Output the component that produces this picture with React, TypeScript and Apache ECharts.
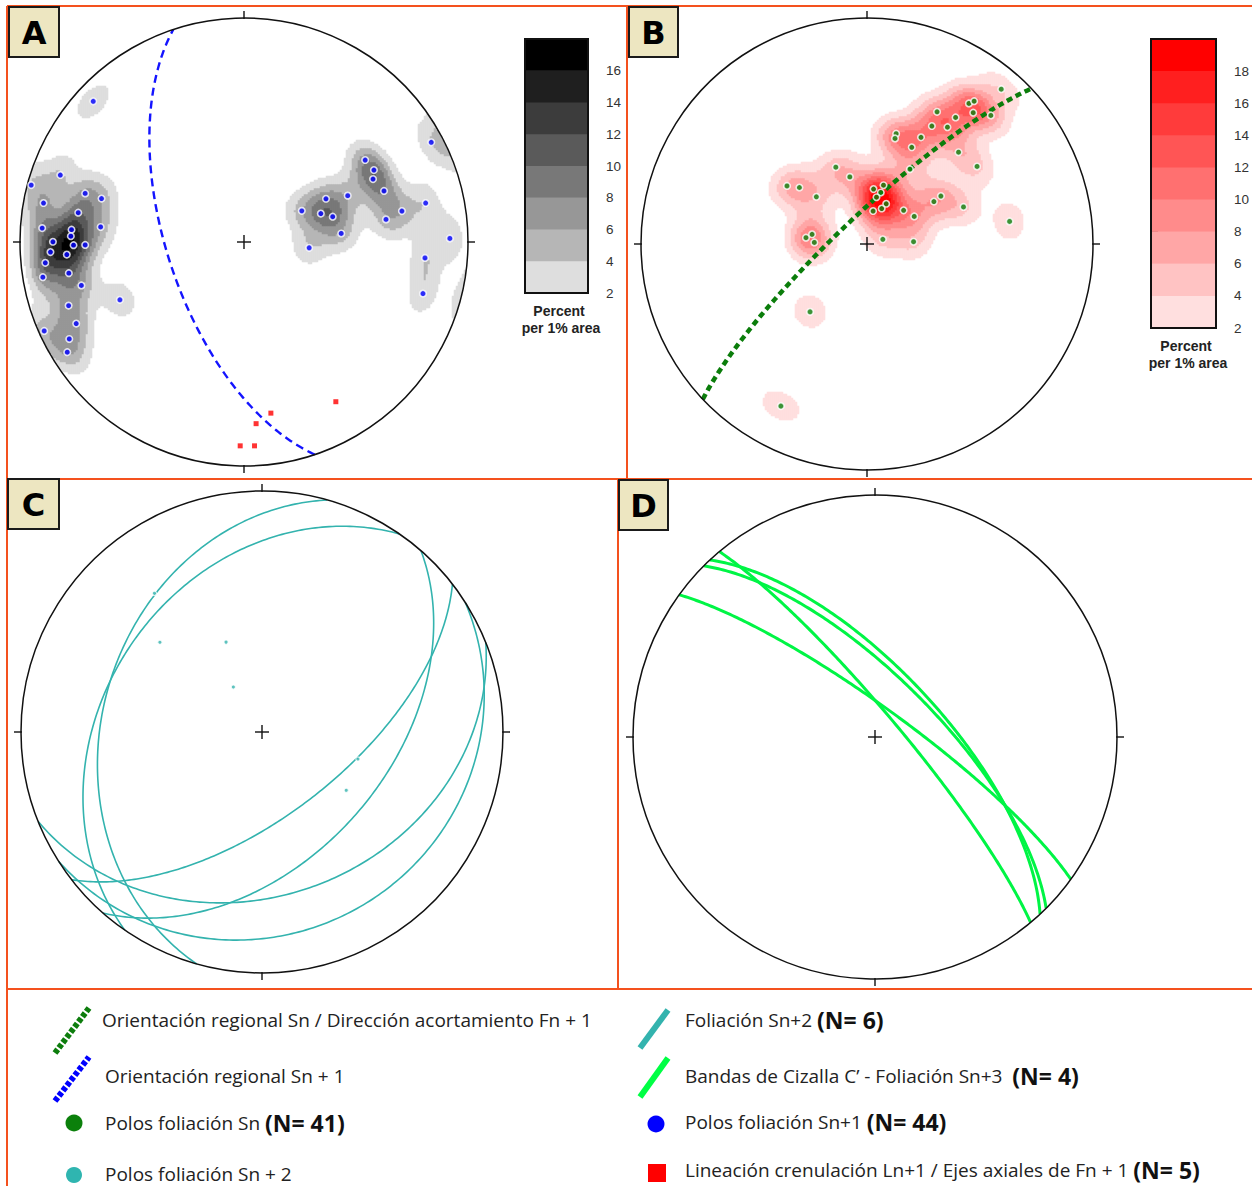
import React, { useEffect, useRef } from "react";
import * as echarts from "echarts";

const W = 1252;
const H = 1186;
const D2R = Math.PI / 180;

// ---- DATA (net coordinates: east, north; primitive radius = 1, equal-area, lower hemisphere)
// A: Polos foliación Sn+1 (N = 44)
const POLES_SN1: [number, number][] = [
  [-0.673, 0.628], [-0.82, 0.299], [-0.95, 0.254], [-0.709, 0.217], [-0.636, 0.194],
  [-0.895, 0.174], [-0.74, 0.131], [-0.901, 0.062], [-0.64, 0.067], [-0.77, 0.055],
  [-0.773, 0.026], [-0.853, 0.001], [-0.761, -0.014], [-0.709, -0.013], [-0.864, -0.045],
  [-0.791, -0.056], [-0.887, -0.093], [-0.898, -0.157], [-0.782, -0.139], [-0.726, -0.194],
  [-0.554, -0.258], [-0.783, -0.284], [-0.749, -0.364], [-0.892, -0.397], [-0.78, -0.433],
  [-0.789, -0.492], [0.258, 0.139], [0.291, -0.026], [0.366, 0.193], [0.463, 0.207],
  [0.343, 0.127], [0.396, 0.113], [0.434, 0.038], [0.541, 0.366], [0.58, 0.321],
  [0.576, 0.281], [0.625, 0.228], [0.705, 0.138], [0.634, 0.101], [0.811, 0.174],
  [0.836, 0.445], [0.919, 0.016], [0.808, -0.071], [0.799, -0.23],
];
// A: Lineación crenulación Ln+1 / Ejes axiales de Fn+1 (N = 5)
const LINEATIONS_LN1: [number, number][] = [
  [0.12, -0.764], [0.054, -0.811], [-0.017, -0.91], [0.047, -0.91], [0.41, -0.713],
];
// B: Polos foliación Sn (N = 41)
const POLES_SN: [number, number][] = [
  [0.31, 0.585], [0.287, 0.522], [0.356, 0.517], [0.129, 0.488], [0.124, 0.467],
  [0.239, 0.472], [0.198, 0.428], [-0.138, 0.34], [-0.076, 0.297], [-0.354, 0.257],
  [-0.299, 0.25], [-0.224, 0.209], [0.029, 0.243], [0.073, 0.26], [0.061, 0.228],
  [0.085, 0.178], [0.065, 0.157], [0.027, 0.146], [0.162, 0.149], [0.209, 0.122],
  [0.19, 0.331], [-0.27, 0.028], [-0.243, 0.043], [-0.233, 0.007], [0.07, 0.021],
  [0.206, 0.01], [-0.252, -0.3], [-0.381, -0.717], [0.296, 0.188], [0.327, 0.212],
  [0.594, 0.685], [0.451, 0.622], [0.474, 0.632], [0.47, 0.581], [0.548, 0.569],
  [0.392, 0.56], [0.405, 0.406], [0.487, 0.343], [0.427, 0.164], [0.631, 0.1],
  [0.042, 0.207],
];
// Planes: [dip direction, dip] (degrees)
const PLANE_SN1: [number, number][] = [[251.6, 62]];
const PLANE_SN: [number, number][] = [[316.6, 80]];
const PLANES_SN2: [number, number][] = [
  [285.7, 34], [304.7, 35], [142.2, 62], [131.3, 47], [158.2, 33], [147.5, 18],
];
const PLANES_SN3: [number, number][] = [[36, 80], [50, 82], [47, 68], [45, 70]];

// Density colour scales (percent per 1% area)
const GRAY_BANDS = [2, 4, 6, 8, 10, 12, 14, 16];
const GRAY_COLORS = ["#dedede", "#b6b6b6", "#979797", "#787878", "#5a5a5a", "#3c3c3c", "#1f1f1f", "#000000"];
const GRAY_TICKS = [2, 4, 6, 8, 10, 12, 14, 16];
const RED_BANDS = [2, 4, 6, 8, 10, 12, 14, 16, 18];
const RED_COLORS = ["#ffdfdf", "#ffc3c3", "#ffa6a6", "#ff8b8b", "#ff7070", "#ff5555", "#ff3b3b", "#ff1f1f", "#ff0000"];
const RED_TICKS = [2, 4, 6, 8, 10, 12, 14, 16, 18];

// ---- projection helpers
function project(trend: number, plunge: number): [number, number] {
  const r = Math.SQRT2 * Math.sin(((90 - plunge) / 2) * D2R);
  return [r * Math.sin(trend * D2R), r * Math.cos(trend * D2R)];
}
function vecToXY(e: number, n: number, d: number): [number, number] {
  const dd = Math.max(0, Math.min(1, d));
  const plunge = Math.asin(dd) / D2R;
  const trend = Math.atan2(e, n) / D2R;
  return project(trend, plunge);
}
function xyToVec(x: number, y: number): [number, number, number] {
  const r = Math.hypot(x, y);
  if (r < 1e-9) return [0, 0, 1];
  const th = 2 * Math.asin(Math.min(1, r / Math.SQRT2));
  const s = Math.sin(th);
  return [(s * x) / r, (s * y) / r, Math.cos(th)];
}
function greatCircle(dipDir: number, dip: number): [number, number][] {
  const a = dipDir * D2R;
  const b = dip * D2R;
  const s = [Math.sin(a - Math.PI / 2), Math.cos(a - Math.PI / 2), 0];
  const dv = [Math.sin(a) * Math.cos(b), Math.cos(a) * Math.cos(b), Math.sin(b)];
  const pts: [number, number][] = [];
  for (let t = 0; t <= 180; t += 1) {
    const c = Math.cos(t * D2R);
    const sn = Math.sin(t * D2R);
    pts.push(vecToXY(s[0] * c + dv[0] * sn, s[1] * c + dv[1] * sn, s[2] * c + dv[2] * sn));
  }
  return pts;
}
function densityCells(points: [number, number][], n: number): number[][] {
  const SIG = 0.092;
  const AMP = 1.45;
  const vecs = points.map((p) => xyToVec(p[0], p[1]));
  const k = 100 / points.length;
  const out: number[][] = [];
  const lim = 1 - 0.5 / n;
  for (let i = 0; i < n; i++) {
    for (let j = 0; j < n; j++) {
      const x = -1 + ((i + 0.5) * 2) / n;
      const y = -1 + ((j + 0.5) * 2) / n;
      if (x * x + y * y > lim * lim) continue;
      const v = xyToVec(x, y);
      let s = 0;
      for (const p of vecs) {
        const c = Math.abs(v[0] * p[0] + v[1] * p[1] + v[2] * p[2]);
        const th = Math.acos(Math.min(1, c));
        if (th > 0.4) continue;
        s += AMP * Math.exp(-(th * th) / (2 * SIG * SIG));
      }
      const val = s * k;
      if (val >= 2) out.push([i, j, val]);
    }
  }
  return out;
}

const range = (n: number) => Array.from({ length: n }, (_, i) => String(i));

function buildOption(): any {
  const NA = 224;
  const NB = 226;
  const ORANGE = "#f4511e";
  const BEIGE = "#ede6c1";
  const LEG_FONT = "Open Sans";

  const netFrame = (idx: number) => ({
    type: "custom",
    xAxisIndex: idx,
    yAxisIndex: idx,
    z: 5,
    silent: true,
    data: [[0, 0]],
    renderItem: (_p: any, api: any) => {
      const c = api.coord([0, 0]);
      const e = api.coord([1, 0]);
      const R = e[0] - c[0];
      const ln = (x1: number, y1: number, x2: number, y2: number) => ({
        type: "line",
        shape: { x1, y1, x2, y2 },
        style: { stroke: "#111", lineWidth: 1.4 },
      });
      return {
        type: "group",
        children: [
          { type: "circle", shape: { cx: c[0], cy: c[1], r: R }, style: { fill: "none", stroke: "#111", lineWidth: 1.5 } },
          ln(c[0], c[1] - R - 7, c[0], c[1] - R + 1),
          ln(c[0], c[1] + R - 1, c[0], c[1] + R + 7),
          ln(c[0] - R - 7, c[1], c[0] - R + 1, c[1]),
          ln(c[0] + R - 1, c[1], c[0] + R + 7, c[1]),
          ln(c[0] - 7, c[1], c[0] + 7, c[1]),
          ln(c[0], c[1] - 7, c[0], c[1] + 7),
        ],
      };
    },
  });

  const planeSeries = (idx: number, planes: [number, number][], style: any) => ({
    type: "custom",
    xAxisIndex: idx,
    yAxisIndex: idx,
    z: 4,
    silent: true,
    data: planes,
    renderItem: (_p: any, api: any) => {
      const pts = greatCircle(api.value(0), api.value(1)).map((q) => api.coord(q));
      return { type: "polyline", shape: { points: pts }, style: { fill: "none", ...style } };
    },
  });

  const barSeries = (axis: number, bands: number[], colors: string[]) => ({
    type: "custom",
    xAxisIndex: axis,
    yAxisIndex: axis,
    silent: true,
    z: 3,
    data: bands.map((b) => [0, b]),
    renderItem: (p: any, api: any) => {
      const lo = api.value(1);
      const p0 = api.coord([0, lo]);
      const p1 = api.coord([1, lo + 2]);
      return {
        type: "rect",
        shape: { x: p0[0], y: p1[1] - 0.5, width: p1[0] - p0[0], height: p0[1] - p1[1] + 0.5 },
        style: { fill: colors[p.dataIndex] },
      };
    },
  });
  const barOutline = (axis: number, top: number) => ({
    type: "custom",
    xAxisIndex: axis,
    yAxisIndex: axis,
    silent: true,
    z: 4,
    data: [[0, 2]],
    renderItem: (_p: any, api: any) => {
      const p0 = api.coord([0, 2]);
      const p1 = api.coord([1, top]);
      return {
        type: "rect",
        shape: { x: p0[0], y: p1[1], width: p1[0] - p0[0], height: p0[1] - p1[1] },
        style: { fill: "none", stroke: "#111", lineWidth: 2 },
      };
    },
  });

  const pieces = (bands: number[], colors: string[]) =>
    bands.map((lo, i) => (i === bands.length - 1 ? { gte: lo, color: colors[i] } : { gte: lo, lt: lo + 2, color: colors[i] }));

  const valAxis = (g: number) => ({ type: "value", gridIndex: g, min: -1, max: 1, show: false });
  const catAxis = (g: number, n: number) => ({ type: "category", gridIndex: g, data: range(n), show: false });
  const barY = (g: number, max: number, ticks: number[]) => ({
    type: "value",
    gridIndex: g,
    min: 2,
    max,
    interval: 2,
    position: "right",
    axisLine: { show: false },
    splitLine: { show: false },
    axisTick: { show: true, length: 7, lineStyle: { color: "#111", width: 1 }, customValues: ticks },
    axisLabel: { color: "#333", fontSize: 13.5, fontFamily: "Liberation Sans", margin: 18, customValues: ticks },
  });

  const poleC = PLANES_SN2.map(([dd, dp]) => project(dd + 180, 90 - dp));

  const box = (x: number, y: number, w: number, h: number, letter: string) => ({
    type: "group",
    x,
    y,
    children: [
      { type: "rect", shape: { x: 0, y: 0, width: w, height: h }, style: { fill: BEIGE, stroke: "#1a1a1a", lineWidth: 2 } },
      {
        type: "text",
        x: w / 2,
        y: h / 2 + 1,
        style: {
          text: letter,
          fontSize: 32,
          fontWeight: "bold",
          fontFamily: "DejaVu Sans",
          fill: "#000",
          textAlign: "center",
          textVerticalAlign: "middle",
        },
      },
    ],
  });
  const hline = (x1: number, y1: number, x2: number, y2: number) => ({
    type: "line",
    shape: { x1, y1, x2, y2 },
    style: { stroke: ORANGE, lineWidth: 2 },
  });
  const legText = (x: number, y: number, plain: string, bold?: string) => ({
    type: "text",
    x,
    y,
    style: {
      text: bold ? `{a|${plain}}{b|${bold}}` : `{a|${plain}}`,
      textAlign: "left",
      textVerticalAlign: "middle",
      rich: {
        a: { fontSize: 19, fontFamily: LEG_FONT, fill: "#222" },
        b: { fontSize: 23, fontFamily: LEG_FONT, fontWeight: "bold", fill: "#111" },
      },
    },
  });
  const barText = (x: number, y: number, t: string) => ({
    type: "text",
    x,
    y,
    style: {
      text: t,
      fontSize: 14,
      fontWeight: "bold",
      fontFamily: "Liberation Sans",
      fill: "#222",
      textAlign: "center",
      textVerticalAlign: "middle",
    },
  });

  return {
    animation: false,
    backgroundColor: "#fff",
    textStyle: { fontFamily: "Liberation Sans" },
    grid: [
      { left: 20, top: 18, width: 448, height: 448, outerBoundsMode: "none" },
      { left: 641, top: 18, width: 452, height: 452, outerBoundsMode: "none" },
      { left: 21, top: 491, width: 482, height: 482, outerBoundsMode: "none" },
      { left: 633, top: 495, width: 484, height: 484, outerBoundsMode: "none" },
      { left: 525, top: 39, width: 63, height: 254, outerBoundsMode: "none" },
      { left: 1151, top: 39, width: 65, height: 289, outerBoundsMode: "none" },
    ],
    xAxis: [
      valAxis(0), valAxis(1), valAxis(2), valAxis(3),
      catAxis(0, NA), catAxis(1, NB),
      { type: "value", gridIndex: 4, min: 0, max: 1, show: false },
      { type: "value", gridIndex: 5, min: 0, max: 1, show: false },
    ],
    yAxis: [
      valAxis(0), valAxis(1), valAxis(2), valAxis(3),
      catAxis(0, NA), catAxis(1, NB),
      barY(4, 18, GRAY_TICKS),
      barY(5, 20, RED_TICKS),
    ],
    visualMap: [
      { type: "piecewise", show: false, seriesIndex: 0, dimension: 2, pieces: pieces(GRAY_BANDS, GRAY_COLORS) },
      { type: "piecewise", show: false, seriesIndex: 1, dimension: 2, pieces: pieces(RED_BANDS, RED_COLORS) },
    ],
    series: [
      { type: "heatmap", xAxisIndex: 4, yAxisIndex: 4, data: densityCells(POLES_SN1, NA), z: 1, silent: true, progressive: 0, emphasis: { disabled: true } },
      { type: "heatmap", xAxisIndex: 5, yAxisIndex: 5, data: densityCells(POLES_SN, NB), z: 1, silent: true, progressive: 0, emphasis: { disabled: true } },
      netFrame(0), netFrame(1), netFrame(2), netFrame(3),
      planeSeries(0, PLANE_SN1, { stroke: "#1414ff", lineWidth: 2.4, lineDash: [8, 5] }),
      planeSeries(1, PLANE_SN, { stroke: "#0b7d0b", lineWidth: 4.5, lineDash: [6, 4] }),
      planeSeries(2, PLANES_SN2, { stroke: "#33b3ae", lineWidth: 1.6 }),
      planeSeries(3, PLANES_SN3, { stroke: "#00f545", lineWidth: 3 }),
      {
        type: "scatter", xAxisIndex: 0, yAxisIndex: 0, z: 6, silent: true, symbol: "circle", symbolSize: 6.5,
        itemStyle: { color: "#0000ff", borderColor: "#fff", borderWidth: 1.6 }, data: POLES_SN1,
      },
      {
        type: "scatter", xAxisIndex: 0, yAxisIndex: 0, z: 6, silent: true, symbol: "rect", symbolSize: 5,
        itemStyle: { color: "#ff0000" }, data: LINEATIONS_LN1,
      },
      {
        type: "scatter", xAxisIndex: 1, yAxisIndex: 1, z: 6, silent: true, symbol: "circle", symbolSize: 6.5,
        itemStyle: { color: "#0b800b", borderColor: "#fff", borderWidth: 1.6 }, data: POLES_SN,
      },
      {
        type: "scatter", xAxisIndex: 2, yAxisIndex: 2, z: 6, silent: true, symbol: "circle", symbolSize: 4.2,
        itemStyle: { color: "#33b3ae", borderColor: "#fff", borderWidth: 1.2 }, data: poleC,
      },
      barSeries(6, GRAY_BANDS, GRAY_COLORS),
      barSeries(7, RED_BANDS, RED_COLORS),
      barOutline(6, 18),
      barOutline(7, 20),
    ],
    graphic: [
      hline(7, 6, W, 6),
      hline(7, 6, 7, H),
      hline(627, 6, 627, 479),
      hline(7, 479, W, 479),
      hline(618, 479, 618, 989),
      hline(7, 989, W, 989),
      box(9, 7, 50, 50, "A"),
      box(629, 7, 49, 50, "B"),
      box(8, 479, 51, 50, "C"),
      box(619, 480, 49, 50, "D"),
      barText(559, 311, "Percent"),
      barText(561, 328, "per 1% area"),
      barText(1186, 346, "Percent"),
      barText(1188, 363, "per 1% area"),
      // legend symbols
      { type: "line", shape: { x1: 55, y1: 1053, x2: 89, y2: 1008 }, style: { stroke: "#0d7d0d", lineWidth: 6, lineDash: [4.5, 2] } },
      { type: "line", shape: { x1: 55, y1: 1101, x2: 89, y2: 1057 }, style: { stroke: "#0000ff", lineWidth: 6, lineDash: [4.5, 2] } },
      { type: "circle", shape: { cx: 74, cy: 1123, r: 8.5 }, style: { fill: "#0b800b" } },
      { type: "circle", shape: { cx: 74, cy: 1175, r: 8 }, style: { fill: "#2fb5b0" } },
      { type: "line", shape: { x1: 640, y1: 1048, x2: 668, y2: 1010 }, style: { stroke: "#33b3ae", lineWidth: 6 } },
      { type: "line", shape: { x1: 640, y1: 1097, x2: 668, y2: 1058 }, style: { stroke: "#00ff44", lineWidth: 6 } },
      { type: "circle", shape: { cx: 656, cy: 1124, r: 8.5 }, style: { fill: "#0000ff" } },
      { type: "rect", shape: { x: 648, y: 1164, width: 18, height: 18 }, style: { fill: "#ff0000" } },
      legText(102, 1020, "Orientación regional Sn / Dirección acortamiento Fn + 1"),
      legText(105, 1076, "Orientación regional Sn + 1"),
      legText(105, 1123, "Polos foliación Sn ", "(N= 41)"),
      legText(105, 1174, "Polos foliación Sn + 2"),
      legText(685, 1020, "Foliación Sn+2 ", "(N= 6)"),
      legText(685, 1076, "Bandas de Cizalla C’ - Foliación Sn+3  ", "(N= 4)"),
      legText(685, 1122, "Polos foliación Sn+1 ", "(N= 44)"),
      legText(685, 1170, "Lineación crenulación Ln+1 / Ejes axiales de Fn + 1 ", "(N= 5)"),
    ],
  };
}

export default function App() {
  const ref = useRef<HTMLDivElement>(null);
  useEffect(() => {
    if (!ref.current) return;
    const chart = echarts.init(ref.current, null, { renderer: "svg" });
    chart.setOption(buildOption());
    return () => chart.dispose();
  }, []);
  return (
    <div
      ref={ref}
      style={{ position: "absolute", left: 0, top: 0, width: W, height: H, background: "#fff" }}
    />
  );
}
